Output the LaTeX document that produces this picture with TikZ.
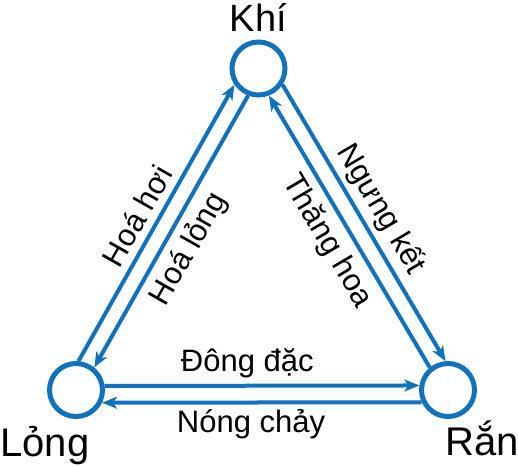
\documentclass[tikz,border=0pt]{standalone}
\usepackage{fontspec}
\setmainfont{Liberation Sans}
\usetikzlibrary{arrows.meta}
\definecolor{dblue}{RGB}{16,114,190}
\begin{document}
\begin{tikzpicture}[x=1pt,y=-1pt,
  phase/.style={circle, draw=dblue, line width=5pt, minimum size=53pt, inner sep=0pt},
  flow/.style={draw=dblue, line width=4pt, -{Stealth[length=15pt,width=12pt,inset=4pt]}},
  vlabel/.style={font=\fontsize{40}{42}\selectfont, inner sep=0pt},
  elabel/.style={font=\fontsize{31}{33}\selectfont, inner sep=0pt}]
\useasboundingbox (0,0) rectangle (518,466);
\node[phase] (K) at (258.5,68.5) {};
\node[phase] (L) at (76,390) {};
\node[phase] (R) at (448,390) {};
\draw[flow] (L.85.9) -- (K.214.9);
\draw[flow] (K.249.3) -- (L.51.5);
\draw[flow] (K.326.0) -- (R.95.0);
\draw[flow] (R.129.4) -- (K.291.6);
\draw[flow] (L.8.9) -- (R.171.1);
\draw[flow] (R.205.5) -- (L.334.5);
\node[vlabel, font=\fontsize{38}{40}\selectfont, anchor=base] (tK) at (258.5,31.5) {Khí};
\node[vlabel, anchor=base] (tL) at (45,456) {Lỏng};
\node[vlabel, anchor=base] (tR) at (482,455) {Rắn};
\node[elabel, anchor=base] (dd) at (247.3,371.7) {Đông đặc};
\node[elabel, anchor=base] (nc) at (251,432.5) {Nóng chảy};
\node[elabel, rotate=60.4] (hh) at (137,216) {Hoá hơi};
\node[elabel, rotate=60.4] (hl) at (189,249) {Hoá lỏng};
\node[elabel, rotate=-59.5] (nk) at (381,209) {Ngưng kết};
\node[elabel, rotate=-59.5] (th) at (327,241) {Thăng hoa};
\end{tikzpicture}
\end{document}
